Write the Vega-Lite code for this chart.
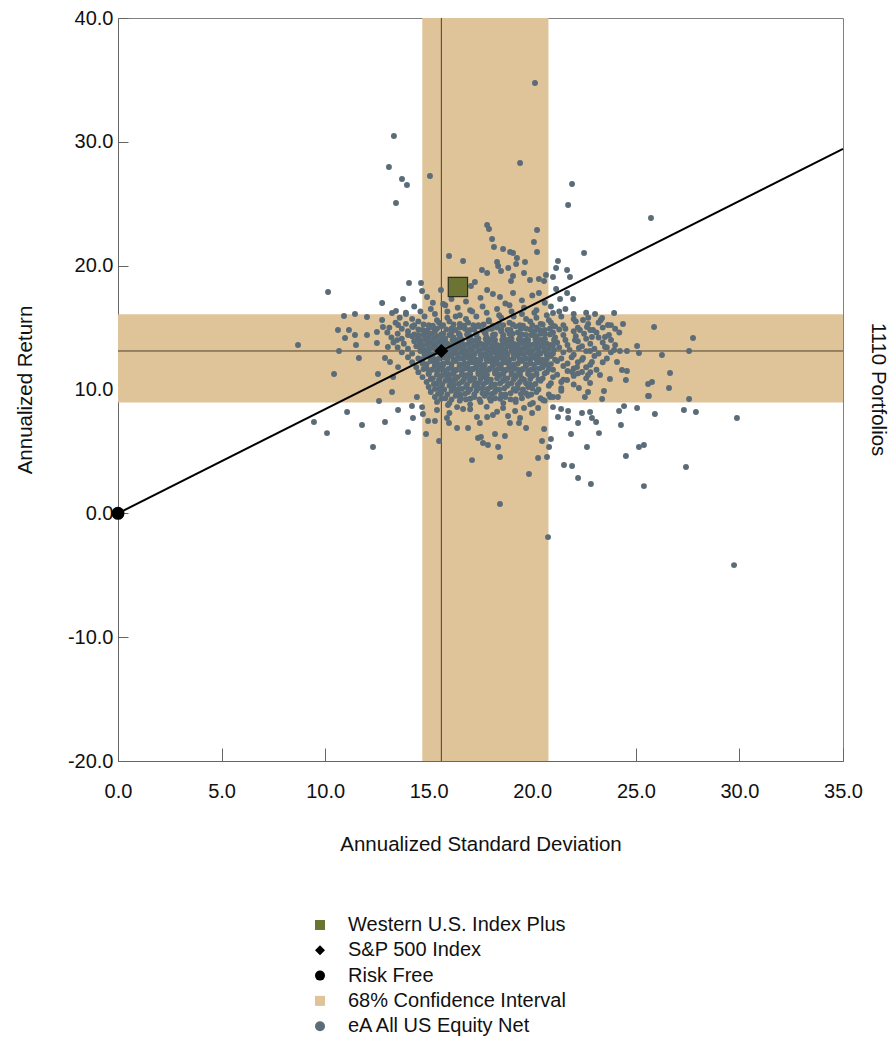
{
  "$schema": "https://vega.github.io/schema/vega-lite/v6.json",
  "width": 725,
  "height": 743,
  "autosize": {"type": "none"},
  "padding": {"left": 118, "top": 18, "right": 53, "bottom": 279},
  "background": "white",
  "title": {"text": "1110 Portfolios", "orient": "right", "anchor": "middle", "angle": 90, "baseline": "bottom", "offset": -15, "font": "Liberation Sans", "fontSize": 20.5, "fontWeight": "normal", "color": "#111111"},
  "config": {
    "font": "Liberation Sans",
    "view": {"stroke": "#808080", "strokeWidth": 1},
    "axis": {"grid": false, "domainColor": "#666666", "tickColor": "#666666", "labelColor": "#111111", "titleColor": "#111111", "labelFont": "Liberation Sans", "titleFont": "Liberation Sans", "labelFontSize": 20, "titleFontSize": 20.5, "titleFontWeight": "normal"},
    "legend": {"orient": "none", "legendX": 192, "legendY": 897, "direction": "vertical", "padding": 0, "labelFont": "Liberation Sans", "labelFontSize": 20, "labelColor": "#111111", "labelLimit": 0, "symbolSize": 100, "symbolStrokeWidth": 0, "labelOffset": 18, "rowPadding": 5.3, "symbolType": "square"}
  },
  "datasets": {
    "bands": [
      {"sd": 14.69, "sd2": 20.78, "ret": -20, "ret2": 40},
      {"sd": 0, "sd2": 35, "ret": 8.95, "ret2": 16.08}
    ],
    "cross": [
      {"sd": 15.61, "sd2": 15.61, "ret": -20, "ret2": 40},
      {"sd": 0, "sd2": 35, "ret": 13.11, "ret2": 13.11}
    ],
    "cml": [
      {"sd": 0, "ret": 0},
      {"sd": 35, "ret": 29.43}
    ]
  },
  "layer": [
    {
      "data": {"name": "bands"},
      "mark": {"type": "rect", "color": "#dfc49a"},
      "encoding": {
        "x": {"field": "sd", "type": "quantitative", "scale": {"domain": [0, 35], "nice": false, "zero": false},
          "axis": {"title": "Annualized Standard Deviation", "values": [0, 5, 10, 15, 20, 25, 30, 35], "labelExpr": "replace(format(datum.value, '.1f'), '\u2212', '-')", "tickSize": -13, "labelPadding": 33, "titlePadding": 33, "labelFlush": false}},
        "x2": {"field": "sd2"},
        "y": {"field": "ret", "type": "quantitative", "scale": {"domain": [-20, 40], "nice": false, "zero": false},
          "axis": {"title": "Annualized Return", "values": [-20, -10, 0, 10, 20, 30, 40], "labelExpr": "replace(format(datum.value, '.1f'), '\u2212', '-')", "tickSize": -10, "labelPadding": 15, "titlePadding": 32, "labelFlush": false}},
        "y2": {"field": "ret2"}
      }
    },
    {
      "data": {"name": "cross"},
      "mark": {"type": "rule", "color": "#4f3f2a", "strokeWidth": 1},
      "encoding": {
        "x": {"field": "sd", "type": "quantitative"},
        "x2": {"field": "sd2"},
        "y": {"field": "ret", "type": "quantitative"},
        "y2": {"field": "ret2"}
      }
    },
    {
      "data": {"values": "sd,ret\n20.13,34.75\n13.32,30.47\n19.41,28.29\n13.08,27.97\n15.06,27.24\n13.71,27.00\n13.95,26.51\n21.92,26.59\n13.42,25.06\n21.73,24.90\n25.73,23.85\n22.50,21.02\n17.82,23.28\n17.91,22.96\n20.23,22.88\n18.06,22.15\n20.08,21.91\n18.15,21.51\n18.59,21.34\n18.93,21.10\n19.07,21.02\n19.26,20.62\n20.23,21.10\n15.98,20.78\n16.66,20.38\n21.24,20.38\n21.15,19.81\n21.68,19.65\n21.82,19.08\n18.30,20.29\n18.35,19.97\n18.84,19.81\n19.22,20.13\n19.65,20.29\n18.49,19.57\n17.57,19.65\n17.82,19.41\n19.60,19.41\n19.07,19.16\n18.97,18.76\n19.89,18.84\n20.32,18.92\n20.66,19.24\n20.57,18.76\n21.00,19.08\n17.04,18.36\n17.23,18.68\n15.59,18.03\n17.82,18.03\n18.10,17.71\n18.44,17.47\n19.07,17.79\n20.32,17.79\n21.15,18.11\n21.68,17.79\n21.97,17.31\n21.34,17.31\n21.00,16.18\n10.14,17.87\n12.75,16.98\n13.76,17.31\n14.05,18.60\n14.63,18.60\n14.68,17.95\n14.92,17.47\n23.03,16.10\n23.95,16.18\n23.37,15.77\n24.38,15.29\n25.88,15.05\n27.76,14.16\n27.57,13.11\n26.26,12.78\n25.06,13.51\n25.15,12.95\n24.57,13.11\n24.23,13.11\n23.95,13.19\n23.51,13.43\n24.09,12.22\n24.57,11.49\n24.33,11.57\n24.52,10.77\n23.75,10.85\n23.27,11.17\n26.65,11.33\n26.60,10.12\n25.78,10.60\n25.59,10.44\n25.59,9.47\n27.57,9.23\n23.46,9.88\n22.79,10.52\n22.69,11.17\n22.45,12.54\n22.88,12.22\n23.51,14.24\n22.88,14.24\n22.93,14.80\n23.65,15.21\n22.45,15.61\n22.64,15.05\n22.30,14.80\n22.06,13.99\n22.25,13.35\n22.79,13.11\n22.16,11.81\n22.40,11.41\n21.92,11.41\n21.68,10.77\n22.25,10.12\n22.54,9.39\n22.69,9.80\n10.91,15.93\n11.44,16.10\n12.02,15.85\n13.23,16.18\n13.42,16.34\n13.90,16.10\n12.75,15.61\n8.69,13.59\n10.62,14.80\n11.15,14.80\n10.96,14.16\n11.44,14.40\n11.49,13.59\n10.67,13.11\n11.63,12.54\n10.43,11.25\n12.02,14.40\n12.50,14.64\n12.79,15.05\n13.52,15.21\n14.24,15.05\n12.50,13.75\n13.03,13.43\n13.47,13.99\n14.00,14.40\n12.89,12.54\n13.13,12.22\n12.55,11.25\n13.28,11.01\n13.52,11.81\n9.46,7.37\n10.09,6.48\n11.06,8.18\n11.78,7.13\n12.31,5.35\n12.89,7.37\n13.52,8.34\n14.00,6.56\n14.24,7.70\n14.87,6.40\n14.97,7.45\n15.30,7.45\n15.50,5.84\n15.88,7.70\n15.98,7.29\n16.37,6.89\n16.90,6.89\n17.09,4.30\n17.38,6.08\n17.52,6.16\n17.62,5.68\n17.86,5.52\n18.20,6.40\n18.35,5.35\n18.44,4.55\n18.68,6.24\n18.44,0.75\n18.92,7.29\n19.36,7.29\n19.70,6.89\n19.84,3.17\n20.47,5.84\n20.57,6.81\n20.81,5.35\n20.90,6.00\n20.28,4.47\n20.71,4.55\n20.76,-1.92\n21.53,3.90\n21.92,3.82\n22.21,2.85\n21.87,6.40\n22.21,7.29\n21.00,8.58\n21.39,8.42\n21.73,8.26\n21.73,7.70\n21.24,7.78\n22.40,8.10\n22.79,8.18\n22.88,7.70\n23.08,7.37\n22.64,5.35\n23.22,6.48\n24.28,7.13\n24.19,8.26\n24.43,8.66\n25.06,8.50\n25.92,8.02\n25.63,9.47\n23.37,9.23\n27.32,8.34\n27.90,8.18\n29.88,7.70\n25.15,5.35\n25.39,5.52\n24.52,4.63\n22.83,2.37\n25.39,2.20\n27.42,3.74\n29.74,-4.18\n12.60,9.07\n13.23,9.80\n14.43,9.39\n14.19,8.67\n14.68,8.58\n14.72,8.02\n15.40,8.34\n15.93,8.74\n16.37,8.58\n16.66,8.42\n17.33,7.78\n17.47,7.29\n17.82,7.78\n18.10,7.94\n18.59,8.50\n18.83,7.86\n19.17,8.26\n19.41,7.70\n19.99,8.10\n20.28,8.50\n20.03,8.91\n20.52,9.15\n20.86,9.39\n21.24,9.39\n14.3,16.7\n15.1,16.5\n15.8,16.8\n16.4,16.6\n17.0,16.4\n17.6,16.7\n18.3,16.5\n18.9,16.8\n19.6,16.6\n20.2,16.4\n20.9,16.7\n21.6,16.5\n13.9,16.2\n14.6,16.3\n15.3,16.1\n15.9,16.3\n16.5,16.0\n17.1,16.3\n17.8,16.2\n18.4,16.0\n19.0,16.3\n19.5,16.1\n20.1,16.2\n20.7,16.0\n21.3,16.3\n22.0,16.1\n22.6,16.2\n13.6,15.8\n14.2,15.7\n14.8,15.9\n15.4,15.6\n15.9,15.8\n16.3,15.9\n16.8,15.7\n17.3,15.9\n17.9,15.6\n18.5,15.8\n19.1,15.9\n19.7,15.7\n20.2,15.8\n20.8,15.6\n21.4,15.9\n22.0,15.7\n22.7,15.8\n23.3,15.6\n13.4,15.4\n13.9,15.3\n14.5,15.5\n15.0,15.2\n15.5,15.4\n16.0,15.5\n16.5,15.3\n16.9,15.4\n17.4,15.2\n17.9,15.5\n18.4,15.3\n18.9,15.4\n19.4,15.2\n19.9,15.5\n20.4,15.3\n20.9,15.4\n21.5,15.2\n22.1,15.5\n22.7,15.3\n23.2,15.4\n23.8,15.2\n13.1,15.0\n13.7,14.9\n14.2,15.1\n14.7,14.8\n15.2,15.0\n15.6,15.1\n16.1,14.9\n16.5,15.0\n17.0,14.8\n17.4,15.1\n17.9,14.9\n18.3,15.0\n18.8,14.8\n19.2,15.1\n19.7,14.9\n20.2,15.0\n20.6,14.8\n21.1,15.1\n21.6,14.9\n22.2,15.0\n22.8,14.8\n23.4,15.0\n24.0,14.9\n13.0,14.6\n13.5,14.5\n14.0,14.7\n14.5,14.4\n14.9,14.6\n15.3,14.7\n15.7,14.5\n16.1,14.6\n16.5,14.4\n16.9,14.7\n17.3,14.5\n17.7,14.6\n18.1,14.4\n18.5,14.7\n18.9,14.5\n19.3,14.6\n19.7,14.4\n20.1,14.7\n20.6,14.5\n21.0,14.6\n21.5,14.4\n22.0,14.7\n22.5,14.5\n23.1,14.6\n23.7,14.4\n24.2,14.6\n13.2,14.2\n13.7,14.1\n14.2,14.3\n14.6,14.0\n15.0,14.2\n15.4,14.3\n15.8,14.1\n16.2,14.2\n16.6,14.0\n17.0,14.3\n17.4,14.1\n17.8,14.2\n18.2,14.0\n18.6,14.3\n19.0,14.1\n19.4,14.2\n19.8,14.0\n20.2,14.3\n20.6,14.1\n21.1,14.2\n21.6,14.0\n22.1,14.3\n22.6,14.1\n23.2,14.2\n23.8,14.0\n13.3,13.8\n13.8,13.7\n14.3,13.9\n14.7,13.6\n15.1,13.8\n15.5,13.9\n15.9,13.7\n16.3,13.8\n16.7,13.6\n17.1,13.9\n17.5,13.7\n17.9,13.8\n18.3,13.6\n18.7,13.9\n19.1,13.7\n19.5,13.8\n19.9,13.6\n20.3,13.9\n20.7,13.7\n21.2,13.8\n21.7,13.6\n22.2,13.9\n22.8,13.7\n23.4,13.8\n24.0,13.6\n13.5,13.4\n14.0,13.3\n14.4,13.5\n14.8,13.2\n15.2,13.4\n15.6,13.5\n16.0,13.3\n16.4,13.4\n16.8,13.2\n17.2,13.5\n17.6,13.3\n18.0,13.4\n18.4,13.2\n18.8,13.5\n19.2,13.3\n19.6,13.4\n20.0,13.2\n20.4,13.5\n20.8,13.3\n21.3,13.4\n21.8,13.2\n22.4,13.5\n23.0,13.3\n23.6,13.4\n13.7,13.0\n14.2,12.9\n14.6,13.1\n15.0,12.8\n15.4,13.0\n15.8,13.1\n16.2,12.9\n16.6,13.0\n17.0,12.8\n17.4,13.1\n17.8,12.9\n18.2,13.0\n18.6,12.8\n19.0,13.1\n19.4,12.9\n19.8,13.0\n20.2,12.8\n20.6,13.1\n21.0,12.9\n21.5,13.0\n22.0,12.8\n22.6,13.1\n23.2,12.9\n23.8,13.0\n14.0,12.6\n14.5,12.5\n14.9,12.7\n15.3,12.4\n15.7,12.6\n16.1,12.7\n16.5,12.5\n16.9,12.6\n17.3,12.4\n17.7,12.7\n18.1,12.5\n18.5,12.6\n18.9,12.4\n19.3,12.7\n19.7,12.5\n20.1,12.6\n20.5,12.4\n20.9,12.7\n21.4,12.5\n21.9,12.6\n22.4,12.4\n23.0,12.7\n23.6,12.5\n14.2,12.2\n14.7,12.1\n15.1,12.3\n15.5,12.0\n15.9,12.2\n16.3,12.3\n16.7,12.1\n17.1,12.2\n17.5,12.0\n17.9,12.3\n18.3,12.1\n18.7,12.2\n19.1,12.0\n19.5,12.3\n19.9,12.1\n20.3,12.2\n20.7,12.0\n21.2,12.3\n21.7,12.1\n22.2,12.2\n22.8,12.0\n23.4,12.2\n14.4,11.8\n14.9,11.7\n15.3,11.9\n15.7,11.6\n16.1,11.8\n16.5,11.9\n16.9,11.7\n17.3,11.8\n17.7,11.6\n18.1,11.9\n18.5,11.7\n18.9,11.8\n19.3,11.6\n19.7,11.9\n20.1,11.7\n20.5,11.8\n21.0,11.6\n21.5,11.9\n22.0,11.7\n22.6,11.8\n23.1,11.6\n14.5,11.4\n15.0,11.3\n15.4,11.5\n15.8,11.2\n16.2,11.4\n16.6,11.5\n17.0,11.3\n17.4,11.4\n17.8,11.2\n18.2,11.5\n18.6,11.3\n19.0,11.4\n19.4,11.2\n19.8,11.5\n20.2,11.3\n20.7,11.4\n21.2,11.2\n21.7,11.5\n22.2,11.3\n22.8,11.4\n14.7,11.0\n15.2,10.9\n15.6,11.1\n16.0,10.8\n16.4,11.0\n16.8,11.1\n17.2,10.9\n17.6,11.0\n18.0,10.8\n18.4,11.1\n18.8,10.9\n19.2,11.0\n19.6,10.8\n20.0,11.1\n20.5,10.9\n21.0,11.0\n21.5,10.8\n22.0,11.1\n22.6,10.9\n14.9,10.6\n15.4,10.5\n15.8,10.7\n16.2,10.4\n16.6,10.6\n17.0,10.7\n17.4,10.5\n17.8,10.6\n18.2,10.4\n18.6,10.7\n19.0,10.5\n19.4,10.6\n19.9,10.4\n20.4,10.7\n20.9,10.5\n21.4,10.6\n22.0,10.4\n15.0,10.2\n15.5,10.1\n16.0,10.3\n16.4,10.0\n16.8,10.2\n17.2,10.3\n17.6,10.1\n18.0,10.2\n18.4,10.0\n18.8,10.3\n19.3,10.1\n19.8,10.2\n20.3,10.0\n20.8,10.3\n21.4,10.1\n15.1,9.8\n15.6,9.7\n16.1,9.9\n16.5,9.6\n16.9,9.8\n17.3,9.9\n17.8,9.7\n18.2,9.8\n18.7,9.6\n19.2,9.9\n19.7,9.7\n20.2,9.8\n20.8,9.6\n21.4,9.9\n15.3,9.4\n15.8,9.3\n16.3,9.5\n16.8,9.2\n17.2,9.4\n17.7,9.5\n18.2,9.3\n18.7,9.4\n19.2,9.2\n19.8,9.5\n20.4,9.3\n21.0,9.4\n15.4,9.0\n16.0,8.9\n16.5,9.1\n17.0,8.8\n17.5,9.0\n18.0,9.1\n18.6,8.9\n19.2,9.0\n19.9,8.8\n20.6,9.1\n16.0,8.1\n17.0,8.4\n17.8,8.6\n18.3,8.2\n19.6,8.5\n15.6,14.0\n16.4,14.0\n17.2,13.95\n18.0,14.05\n18.8,14.0\n19.6,13.95\n20.4,14.0\n15.3,13.6\n16.1,13.55\n16.9,13.65\n17.7,13.6\n18.5,13.55\n19.3,13.6\n20.1,13.65\n20.9,13.6\n15.5,13.2\n16.3,13.15\n17.1,13.25\n17.9,13.2\n18.7,13.15\n19.5,13.2\n20.3,13.25\n15.1,12.8\n15.9,12.75\n16.7,12.85\n17.5,12.8\n18.3,12.75\n19.1,12.8\n19.9,12.85\n20.7,12.8\n15.4,12.4\n16.2,12.35\n17.0,12.45\n17.8,12.4\n18.6,12.35\n19.4,12.4\n20.2,12.45\n15.7,12.0\n16.5,11.95\n17.3,12.05\n18.1,12.0\n18.9,11.95\n19.7,12.0\n20.5,12.05\n15.5,11.6\n16.3,11.55\n17.1,11.65\n17.9,11.6\n18.7,11.55\n19.5,11.6\n16.0,11.2\n16.8,11.15\n17.6,11.25\n18.4,11.2\n19.2,11.15\n16.2,10.8\n17.0,10.85\n17.8,10.8\n18.6,10.75\n14.3,15.2\n14.75,15.25\n15.2,15.15\n15.7,15.2\n16.2,15.25\n16.7,15.15\n17.15,15.2\n17.65,15.25\n18.1,15.15\n18.6,15.2\n19.05,15.25\n19.55,15.15\n20.0,15.2\n20.5,15.25\n21.0,15.15\n14.5,14.85\n14.95,14.8\n15.4,14.9\n15.85,14.85\n16.3,14.8\n16.75,14.9\n17.2,14.85\n17.6,14.8\n18.05,14.9\n18.5,14.85\n18.95,14.8\n19.45,14.9\n19.9,14.85\n20.35,14.8\n20.85,14.9\n21.3,14.85\n14.3,14.45\n14.75,14.4\n15.15,14.5\n15.6,14.45\n16.0,14.4\n16.45,14.5\n16.85,14.45\n17.3,14.4\n17.75,14.5\n18.2,14.45\n18.6,14.4\n19.05,14.5\n19.5,14.45\n19.95,14.4\n20.4,14.5\n20.85,14.45\n14.45,14.05\n14.85,14.0\n15.25,14.1\n15.75,14.05\n16.15,14.0\n16.55,14.1\n16.95,14.05\n17.35,14.0\n17.75,14.1\n18.15,14.05\n18.55,14.0\n18.95,14.1\n19.35,14.05\n19.75,14.0\n20.15,14.1\n20.6,14.05\n21.05,14.0\n14.55,13.65\n14.95,13.6\n15.35,13.7\n15.75,13.65\n16.15,13.6\n16.55,13.7\n16.95,13.65\n17.35,13.6\n17.75,13.7\n18.15,13.65\n18.55,13.6\n18.95,13.7\n19.35,13.65\n19.75,13.6\n20.15,13.7\n20.55,13.65\n21.0,13.6\n14.6,13.25\n15.0,13.2\n15.4,13.3\n15.8,13.25\n16.2,13.2\n16.6,13.3\n17.0,13.25\n17.4,13.2\n17.8,13.3\n18.2,13.25\n18.6,13.2\n19.0,13.3\n19.4,13.25\n19.8,13.2\n20.2,13.3\n20.6,13.25\n21.05,13.2\n14.8,12.85\n15.2,12.8\n15.6,12.9\n16.0,12.85\n16.4,12.8\n16.8,12.9\n17.2,12.85\n17.6,12.8\n18.0,12.9\n18.4,12.85\n18.8,12.8\n19.2,12.9\n19.6,12.85\n20.0,12.8\n20.4,12.9\n20.8,12.85\n14.7,12.45\n15.1,12.4\n15.5,12.5\n15.9,12.45\n16.3,12.4\n16.7,12.5\n17.1,12.45\n17.5,12.4\n17.9,12.5\n18.3,12.45\n18.7,12.4\n19.1,12.5\n19.5,12.45\n19.9,12.4\n20.3,12.5\n20.7,12.45\n21.1,12.4\n14.9,12.05\n15.3,12.0\n15.7,12.1\n16.1,12.05\n16.5,12.0\n16.9,12.1\n17.3,12.05\n17.7,12.0\n18.1,12.1\n18.5,12.05\n18.9,12.0\n19.3,12.1\n19.7,12.05\n20.1,12.0\n20.5,12.1\n20.9,12.05\n14.75,11.65\n15.15,11.6\n15.55,11.7\n15.95,11.65\n16.35,11.6\n16.75,11.7\n17.15,11.65\n17.55,11.6\n17.95,11.7\n18.35,11.65\n18.75,11.6\n19.15,11.7\n19.55,11.65\n19.95,11.6\n20.35,11.7\n20.8,11.65\n15.0,11.25\n15.4,11.2\n15.8,11.3\n16.2,11.25\n16.6,11.2\n17.0,11.3\n17.4,11.25\n17.8,11.2\n18.2,11.3\n18.6,11.25\n19.0,11.2\n19.4,11.3\n19.8,11.25\n20.2,11.2\n20.6,11.3\n15.1,10.85\n15.5,10.8\n15.9,10.9\n16.3,10.85\n16.7,10.8\n17.1,10.9\n17.5,10.85\n17.9,10.8\n18.3,10.9\n18.7,10.85\n19.1,10.8\n19.5,10.9\n19.9,10.85\n20.3,10.8\n15.25,10.45\n15.65,10.4\n16.05,10.5\n16.45,10.45\n16.85,10.4\n17.25,10.5\n17.65,10.45\n18.05,10.4\n18.45,10.5\n18.85,10.45\n19.3,10.4\n19.7,10.5\n20.15,10.45\n15.3,10.05\n15.75,10.0\n16.2,10.1\n16.6,10.05\n17.0,10.0\n17.4,10.1\n17.85,10.05\n18.25,10.0\n18.65,10.1\n19.1,10.05\n19.55,10.0\n20.0,10.1\n15.45,9.65\n15.9,9.6\n16.35,9.7\n16.75,9.65\n17.2,9.6\n17.6,9.7\n18.05,9.65\n18.5,9.6\n18.95,9.7\n19.45,9.65\n19.95,9.6\n15.6,9.25\n16.1,9.2\n16.55,9.3\n17.0,9.25\n17.45,9.2\n17.95,9.3\n18.45,9.25\n18.95,9.2\n19.5,9.3\n15.2,17.0\n16.1,17.3\n16.8,17.1\n17.5,17.4\n19.5,17.2\n20.6,17.0\n15.7,16.9\n18.7,16.95\n20.0,17.6\n16.3,17.8", "format": {"type": "csv"}},
      "mark": {"type": "point", "filled": true, "shape": "circle", "size": 35, "color": "#5b6c79", "opacity": 1},
      "encoding": {
        "x": {"field": "sd", "type": "quantitative"},
        "y": {"field": "ret", "type": "quantitative"}
      }
    },
    {
      "data": {"name": "cml"},
      "mark": {"type": "line", "color": "#000000", "strokeWidth": 2},
      "encoding": {
        "x": {"field": "sd", "type": "quantitative"},
        "y": {"field": "ret", "type": "quantitative"}
      }
    },
    {
      "data": {"values": [{"series": "S&P 500 Index", "sd": 15.61, "ret": 13.11}]},
      "mark": {"type": "point", "filled": true, "size": 196, "opacity": 1},
      "encoding": {
        "x": {"field": "sd", "type": "quantitative"},
        "y": {"field": "ret", "type": "quantitative"},
        "color": {"field": "series", "type": "nominal", "title": null,
          "scale": {"domain": ["Western U.S. Index Plus", "S&P 500 Index", "Risk Free", "68% Confidence Interval", "eA All US Equity Net"], "range": ["#6b7432", "#000000", "#000000", "#dfc49a", "#5b6c79"]}},
        "shape": {"field": "series", "type": "nominal", "title": null,
          "scale": {"domain": ["Western U.S. Index Plus", "S&P 500 Index", "Risk Free", "68% Confidence Interval", "eA All US Equity Net"], "range": ["square", "diamond", "circle", "square", "circle"]}}
      }
    },
    {
      "data": {"values": [{"series": "Western U.S. Index Plus", "sd": 16.41, "ret": 18.28}]},
      "mark": {"type": "point", "filled": true, "size": 373, "opacity": 1, "stroke": "#2e2e1e", "strokeWidth": 1.2},
      "encoding": {
        "x": {"field": "sd", "type": "quantitative"},
        "y": {"field": "ret", "type": "quantitative"},
        "color": {"field": "series", "type": "nominal", "title": null},
        "shape": {"field": "series", "type": "nominal", "title": null}
      }
    },
    {
      "data": {"values": [{"series": "Risk Free", "sd": 0, "ret": 0}]},
      "mark": {"type": "point", "filled": true, "size": 170, "opacity": 1},
      "encoding": {
        "x": {"field": "sd", "type": "quantitative"},
        "y": {"field": "ret", "type": "quantitative"},
        "color": {"field": "series", "type": "nominal", "title": null},
        "shape": {"field": "series", "type": "nominal", "title": null}
      }
    }
  ]
}
